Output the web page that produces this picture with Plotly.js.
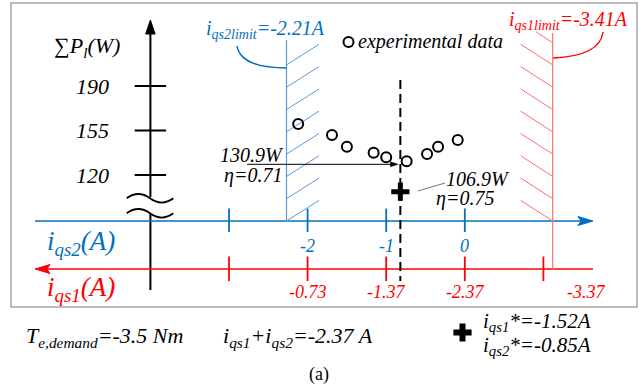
<!DOCTYPE html>
<html><head><meta charset="utf-8">
<script src="https://cdn.plot.ly/plotly-3.0.1.min.js"></script>
<style>html,body{margin:0;padding:0;background:#fff;} #chart{width:639px;height:389px;}</style>
</head><body><div id="chart"></div>
<script>
// ---------- data ----------
const iqs2Ticks = [-3, -2, -1, 0];
const iqs2TickLabels = ['', '-2', '-1', '0'];
const iqs1Ticks = [-3, -2, -1, 0, 1];
const iqs1TickLabels = ['', '-0.73', '-1.37', '-2.37', '-3.37'];
const powerTicks = [120, 155, 190];
const powerTickLabels = ['120', '155', '190'];
const iqs2Exp = [-2.12, -1.69, -1.50, -1.16, -1.00, -0.74, -0.48, -0.34, -0.09];
const lossExp = [160.1, 151.5, 142.3, 137.5, 133.9, 130.9, 136.5, 142.3, 147.5];
const optIqs2 = [-0.82];
const optLoss = [106.9];

// ---------- geometry helpers (pixel layout -> data units) ----------
const FW = 639, FH = 389;
const X0PX = 464.8, XS = 78.6, Y0PX = 175, YS = 1.2714;
const X = p => (p - X0PX) / XS;
const Y = p => 120 + (Y0PX - p) / YS;
const XP = x => X0PX + x * XS;
const pt = (a, b) => X(a) + ',' + Y(b);

const BLACK = '#000000', BLUE = '#0070C0', LBLUE = '#5B9BD5', RED = '#FF0000', LRED = '#FF6E6E';
const FONT = 'Liberation Serif, Times New Roman, serif';

const shapes = [];
function seg(x0, y0, x1, y1, color, width, dash) {
  shapes.push({type: 'line', xref: 'x', yref: 'y', x0: X(x0), y0: Y(y0), x1: X(x1), y1: Y(y1),
    line: {color: color, width: width, dash: dash || 'solid'}, layer: 'below'});
}
function path(d, color, width, fill) {
  shapes.push({type: 'path', xref: 'x', yref: 'y', path: d,
    line: {color: color, width: width}, fillcolor: fill || 'rgba(0,0,0,0)', layer: 'below'});
}

// frame
shapes.push({type: 'rect', xref: 'paper', yref: 'paper', x0: 11 / FW, x1: 637 / FW, y0: 1 - 307 / FH, y1: 1 - 3 / FH,
  line: {color: '#a6a6a6', width: 1.5}, layer: 'below'});

// vertical power axis (broken)
const vx = XP(-4);
seg(vx, 290, vx, 213, BLACK, 2);
seg(vx, 197, vx, 33, BLACK, 2);
path('M' + pt(vx, 20) + ' L' + pt(vx - 4.7, 34) + ' L' + pt(vx + 4.7, 34) + ' Z', BLACK, 1, BLACK);
// break symbol
function wave(yc) {
  return 'M' + pt(126.7, yc) + ' C' + pt(134.5, yc - 5.7) + ' ' + pt(142.2, yc - 5.7) + ' ' + pt(150, yc) +
    ' C' + pt(157.8, yc + 5.7) + ' ' + pt(165.6, yc + 5.7) + ' ' + pt(173.3, yc);
}
path(wave(198.3), BLACK, 1.8);
path(wave(213.3), BLACK, 1.8);
// power ticks
powerTicks.forEach(v => {
  shapes.push({type: 'line', xref: 'x', yref: 'y', x0: -4 - 0.2, x1: -4 + 0.2, y0: v, y1: v,
    line: {color: BLACK, width: 1.8}, layer: 'below'});
});

// blue iqs2 axis
const byp = 221, ryp = 269;
seg(35, byp, 582, byp, BLUE, 1.6);
path('M' + pt(593, byp) + ' L' + pt(578, byp - 4.5) + ' L' + pt(581, byp) + ' L' + pt(578, byp + 4.5) + ' Z', BLUE, 1, BLUE);
iqs2Ticks.forEach(v => {
  shapes.push({type: 'line', xref: 'x', yref: 'y', x0: v, x1: v, y0: Y(208.5), y1: Y(232),
    line: {color: BLUE, width: 1.8}, layer: 'below'});
});
// red iqs1 axis
seg(46, ryp, 593, ryp, RED, 1.6);
path('M' + pt(35, ryp) + ' L' + pt(50, ryp - 4.5) + ' L' + pt(47, ryp) + ' L' + pt(50, ryp + 4.5) + ' Z', RED, 1, RED);
iqs1Ticks.forEach(v => {
  shapes.push({type: 'line', xref: 'x', yref: 'y', x0: v, x1: v, y0: Y(256.5), y1: Y(281),
    line: {color: RED, width: 1.8}, layer: 'below'});
});

// blue limit with hatching
const blx = 286.5;
seg(blx, 40, blx, byp, LBLUE, 1.2);
for (let k = 0; k < 8; k++) {
  const yl = 221 - 22.3 * k;
  seg(blx, yl, 319, yl - 20.6, LBLUE, 1);
}
path('M' + pt(237, 46) + ' Q' + pt(241, 68) + ' ' + pt(blx, 68), BLUE, 1.4);

// red limit with hatching
const rlx = 552.7;
seg(rlx, 33, rlx, ryp, LRED, 1.2);
for (let k = 0; k < 8; k++) {
  const yr = 221 - 22.3 * k;
  seg(rlx, yr, 520.7, yr - 20.6, LRED, 1);
}
seg(rlx, 42.6, 536.2, 32, LRED, 1);
path('M' + pt(603, 32) + ' Q' + pt(600, 56) + ' ' + pt(rlx + 0.5, 58), RED, 1.4);

// dashed optimum line
shapes.push({type: 'line', xref: 'x', yref: 'y', x0: optIqs2[0], x1: optIqs2[0], y0: Y(80), y1: Y(281),
  line: {color: BLACK, width: 2, dash: '9px,5px'}, layer: 'below'});

// arrow to 130.9 W point
seg(247, 164.3, 392, 164.3, BLACK, 1);
path('M' + pt(398, 164.3) + ' L' + pt(390.5, 161.8) + ' L' + pt(390.5, 166.8) + ' Z', BLACK, 0.5, BLACK);
// leader to 106.9 W
seg(418, 191, 445, 183, '#777777', 1);

// ---------- traces ----------
const traces = [
  {x: iqs2Exp, y: lossExp, type: 'scatter', mode: 'markers', hoverinfo: 'skip',
    marker: {symbol: 'circle-open', size: 10, color: BLACK, line: {width: 2, color: BLACK}}},
  {x: optIqs2, y: optLoss, type: 'scatter', mode: 'markers', hoverinfo: 'skip',
    marker: {symbol: 'cross-thin', size: 13, color: BLACK, line: {width: 5, color: BLACK}}},
  // legend symbols
  {x: [X(348.5)], y: [Y(42)], type: 'scatter', mode: 'markers', hoverinfo: 'skip',
    marker: {symbol: 'circle-open', size: 10, color: BLACK, line: {width: 2, color: BLACK}}},
  {x: [X(462.5)], y: [Y(332.5)], type: 'scatter', mode: 'markers', hoverinfo: 'skip',
    marker: {symbol: 'cross-thin', size: 13, color: BLACK, line: {width: 6, color: BLACK}}}
];

// ---------- annotations ----------
const ann = [];
function txt(text, xp, yp, opts) {
  opts = opts || {};
  ann.push({xref: 'paper', yref: 'paper', x: xp / FW, y: 1 - yp / FH, text: text, showarrow: false,
    xanchor: opts.xa || 'left', yanchor: 'middle',
    font: {family: FONT, size: opts.size || 20, color: opts.color || BLACK, style: opts.style || 'italic'}});
}
txt('∑P<sub>l</sub>(W)', 52, 47, {size: 22});
powerTicks.forEach((v, i) => {
  ann.push({xref: 'x', yref: 'y', x: X(111), y: v, text: powerTickLabels[i], showarrow: false,
    xanchor: 'right', yanchor: 'middle', font: {family: FONT, size: 22, color: BLACK, style: 'italic'}});
});
iqs2Ticks.forEach((v, i) => {
  if (!iqs2TickLabels[i]) return;
  ann.push({xref: 'x', yref: 'y', x: v, y: Y(246), text: iqs2TickLabels[i], showarrow: false,
    xanchor: 'center', yanchor: 'middle', font: {family: FONT, size: 18, color: BLUE, style: 'italic'}});
});
iqs1Ticks.forEach((v, i) => {
  if (!iqs1TickLabels[i]) return;
  ann.push({xref: 'x', yref: 'y', x: v, y: Y(292), text: iqs1TickLabels[i], showarrow: false,
    xanchor: 'center', yanchor: 'middle', xshift: (i === iqs1Ticks.length - 1) ? 43 : 0,
    font: {family: FONT, size: 18, color: RED, style: 'italic'}});
});
txt('i<sub>qs2limit</sub>=-2.21A', 204, 30, {color: BLUE, size: 20});
txt('i<sub>qs1limit</sub>=-3.41A', 507, 21, {color: RED, size: 20});
txt('experimental data', 356, 41, {size: 20});
txt('130.9W', 286, 155, {xa: 'right', size: 20});
txt('η=0.71', 284, 175, {xa: 'right', size: 20});
txt('106.9W', 444, 179, {size: 20});
txt('η=0.75', 434, 199, {size: 20});
txt('i<sub>qs2</sub>(A)', 45, 243, {color: BLUE, size: 27});
txt('i<sub>qs1</sub>(A)', 45, 289, {color: RED, size: 27});
txt('T<sub>e,demand</sub>=-3.5 Nm', 24, 337, {size: 22});
txt('i<sub>qs1</sub>+i<sub>qs2</sub>=-2.37 A', 221, 337, {size: 22});
txt('i<sub>qs1</sub>*=-1.52A', 481, 322, {size: 21});
txt('i<sub>qs2</sub>*=-0.85A', 481, 346, {size: 21});
txt('(a)', 319, 374, {xa: 'center', size: 18, style: 'normal'});

const layout = {
  width: FW, height: FH, margin: {l: 0, r: 0, t: 0, b: 0},
  paper_bgcolor: '#ffffff', plot_bgcolor: '#ffffff', showlegend: false,
  xaxis: {range: [X(0), X(FW)], visible: false, fixedrange: true},
  yaxis: {range: [Y(FH), Y(0)], visible: false, fixedrange: true},
  shapes: shapes, annotations: ann
};
Plotly.newPlot('chart', traces, layout, {staticPlot: true, displayModeBar: false});
</script></body></html>
